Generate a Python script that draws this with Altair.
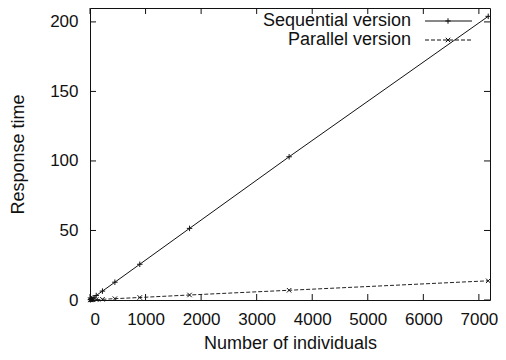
import altair as alt
import pandas as pd

# ---- data ----
individuals = [7, 14, 28, 56, 112, 224, 448, 896, 1792, 3584, 7168]
sequential = [0.2, 0.4, 0.8, 1.6, 3.2, 6.4, 12.8, 25.7, 51.5, 103.0, 204.0]
parallel = [0.1, 0.1, 0.15, 0.2, 0.3, 0.5, 0.95, 1.8, 3.6, 7.0, 13.8]
series_names = ["Sequential version", "Parallel version"]
x_ticks = [0, 1000, 2000, 3000, 4000, 5000, 6000, 7000]
y_ticks = [0, 50, 100, 150, 200]

W, H = 400, 292
LEFT = 82
FONT = "Liberation Sans"
FS = 18
LFS = 17
INK = "#111111"

seq_df = pd.DataFrame({"individuals": individuals, "time": sequential})
par_df = pd.DataFrame({"individuals": individuals, "time": parallel})
xt_df = pd.DataFrame({"v": x_ticks})
yt_df = pd.DataFrame({"v": y_ticks})

xs = alt.Scale(domain=[0, 7200], nice=False, zero=True)
ys = alt.Scale(domain=[0, 210], nice=False)
xaxis = alt.Axis(values=x_ticks, labelPadding=11, titlePadding=7, format="d")
yaxis = alt.Axis(values=y_ticks, labelPadding=12, titlePadding=22, format="d")
XT = "Number of individuals"
YT = "Response time"

PLUS = "M-1,0L1,0M0,-1L0,1"
CROSS = "M-1,-1L1,1M1,-1L-1,1"


def xenc(field):
    return alt.X(field, type="quantitative", scale=xs, axis=xaxis, title=XT)


def yenc(field):
    return alt.Y(field, type="quantitative", scale=ys, axis=yaxis, title=YT)


seq_line = alt.Chart(seq_df).mark_line(color=INK, strokeWidth=1).encode(
    x=xenc("individuals"), y=yenc("time"))
seq_pts = alt.Chart(seq_df).mark_point(shape=PLUS, filled=False, size=30,
                                       color=INK, strokeWidth=1, opacity=1).encode(
    x=xenc("individuals"), y=yenc("time"))
par_line = alt.Chart(par_df).mark_line(color="#222222", strokeWidth=1,
                                       strokeDash=[4, 2]).encode(
    x=xenc("individuals"), y=yenc("time"))
par_pts = alt.Chart(par_df).mark_point(shape=CROSS, filled=False, size=20,
                                       color=INK, strokeWidth=1, opacity=1).encode(
    x=xenc("individuals"), y=yenc("time"))

# inward (gnuplot style) ticks on all four sides
tick_len = 6
xt_bottom = alt.Chart(xt_df).mark_rule(color=INK, strokeWidth=1).encode(
    x=xenc("v"), y=alt.value(H), y2=alt.value(H - tick_len))
xt_top = alt.Chart(xt_df).mark_rule(color=INK, strokeWidth=1).encode(
    x=xenc("v"), y=alt.value(0), y2=alt.value(tick_len))
yt_left = alt.Chart(yt_df).mark_rule(color=INK, strokeWidth=1).encode(
    y=yenc("v"), x=alt.value(0), x2=alt.value(tick_len))
yt_right = alt.Chart(yt_df).mark_rule(color=INK, strokeWidth=1).encode(
    y=yenc("v"), x=alt.value(W), x2=alt.value(W - tick_len))

# key in the upper right, gnuplot style (label left of sample)
legend_layers = []
styles = [(None, PLUS, 30), ([4, 2], CROSS, 20)]
for i, name in enumerate(series_names):
    ldf = pd.DataFrame({"name": [name]})
    yy = 13 + 19 * i
    dash, shape, size = styles[i]
    legend_layers.append(
        alt.Chart(ldf).mark_text(align="right", baseline="middle", font=FONT,
                                 fontSize=FS, color=INK).encode(
            text="name:N", x=alt.value(321), y=alt.value(yy)))
    rule_kw = dict(color=INK, strokeWidth=1)
    if dash:
        rule_kw["strokeDash"] = dash
    legend_layers.append(
        alt.Chart(ldf).mark_rule(**rule_kw).encode(
            x=alt.value(335), x2=alt.value(382), y=alt.value(yy)))
    legend_layers.append(
        alt.Chart(ldf).mark_point(shape=shape, filled=False, size=size, color=INK,
                                  strokeWidth=1, opacity=1).encode(
            x=alt.value(358), y=alt.value(yy)))

chart = alt.layer(
    xt_bottom, xt_top, yt_left, yt_right,
    par_line, par_pts, seq_line, seq_pts,
    *legend_layers,
).properties(
    width=W, height=H,
    autosize=alt.AutoSizeParams(type="none"),
    padding={"left": LEFT, "top": 0, "right": 490 - LEFT - W, "bottom": 52},
    background="white",
).configure_view(
    stroke=INK, strokeWidth=1
).configure_axis(
    grid=False, domain=False, ticks=False,
    labelFont=FONT, labelFontSize=LFS, labelColor=INK,
    titleFont=FONT, titleFontSize=FS, titleColor=INK, titleFontWeight="normal",
)

chart.save("out.html", embed_options={"renderer": "svg", "actions": False})
